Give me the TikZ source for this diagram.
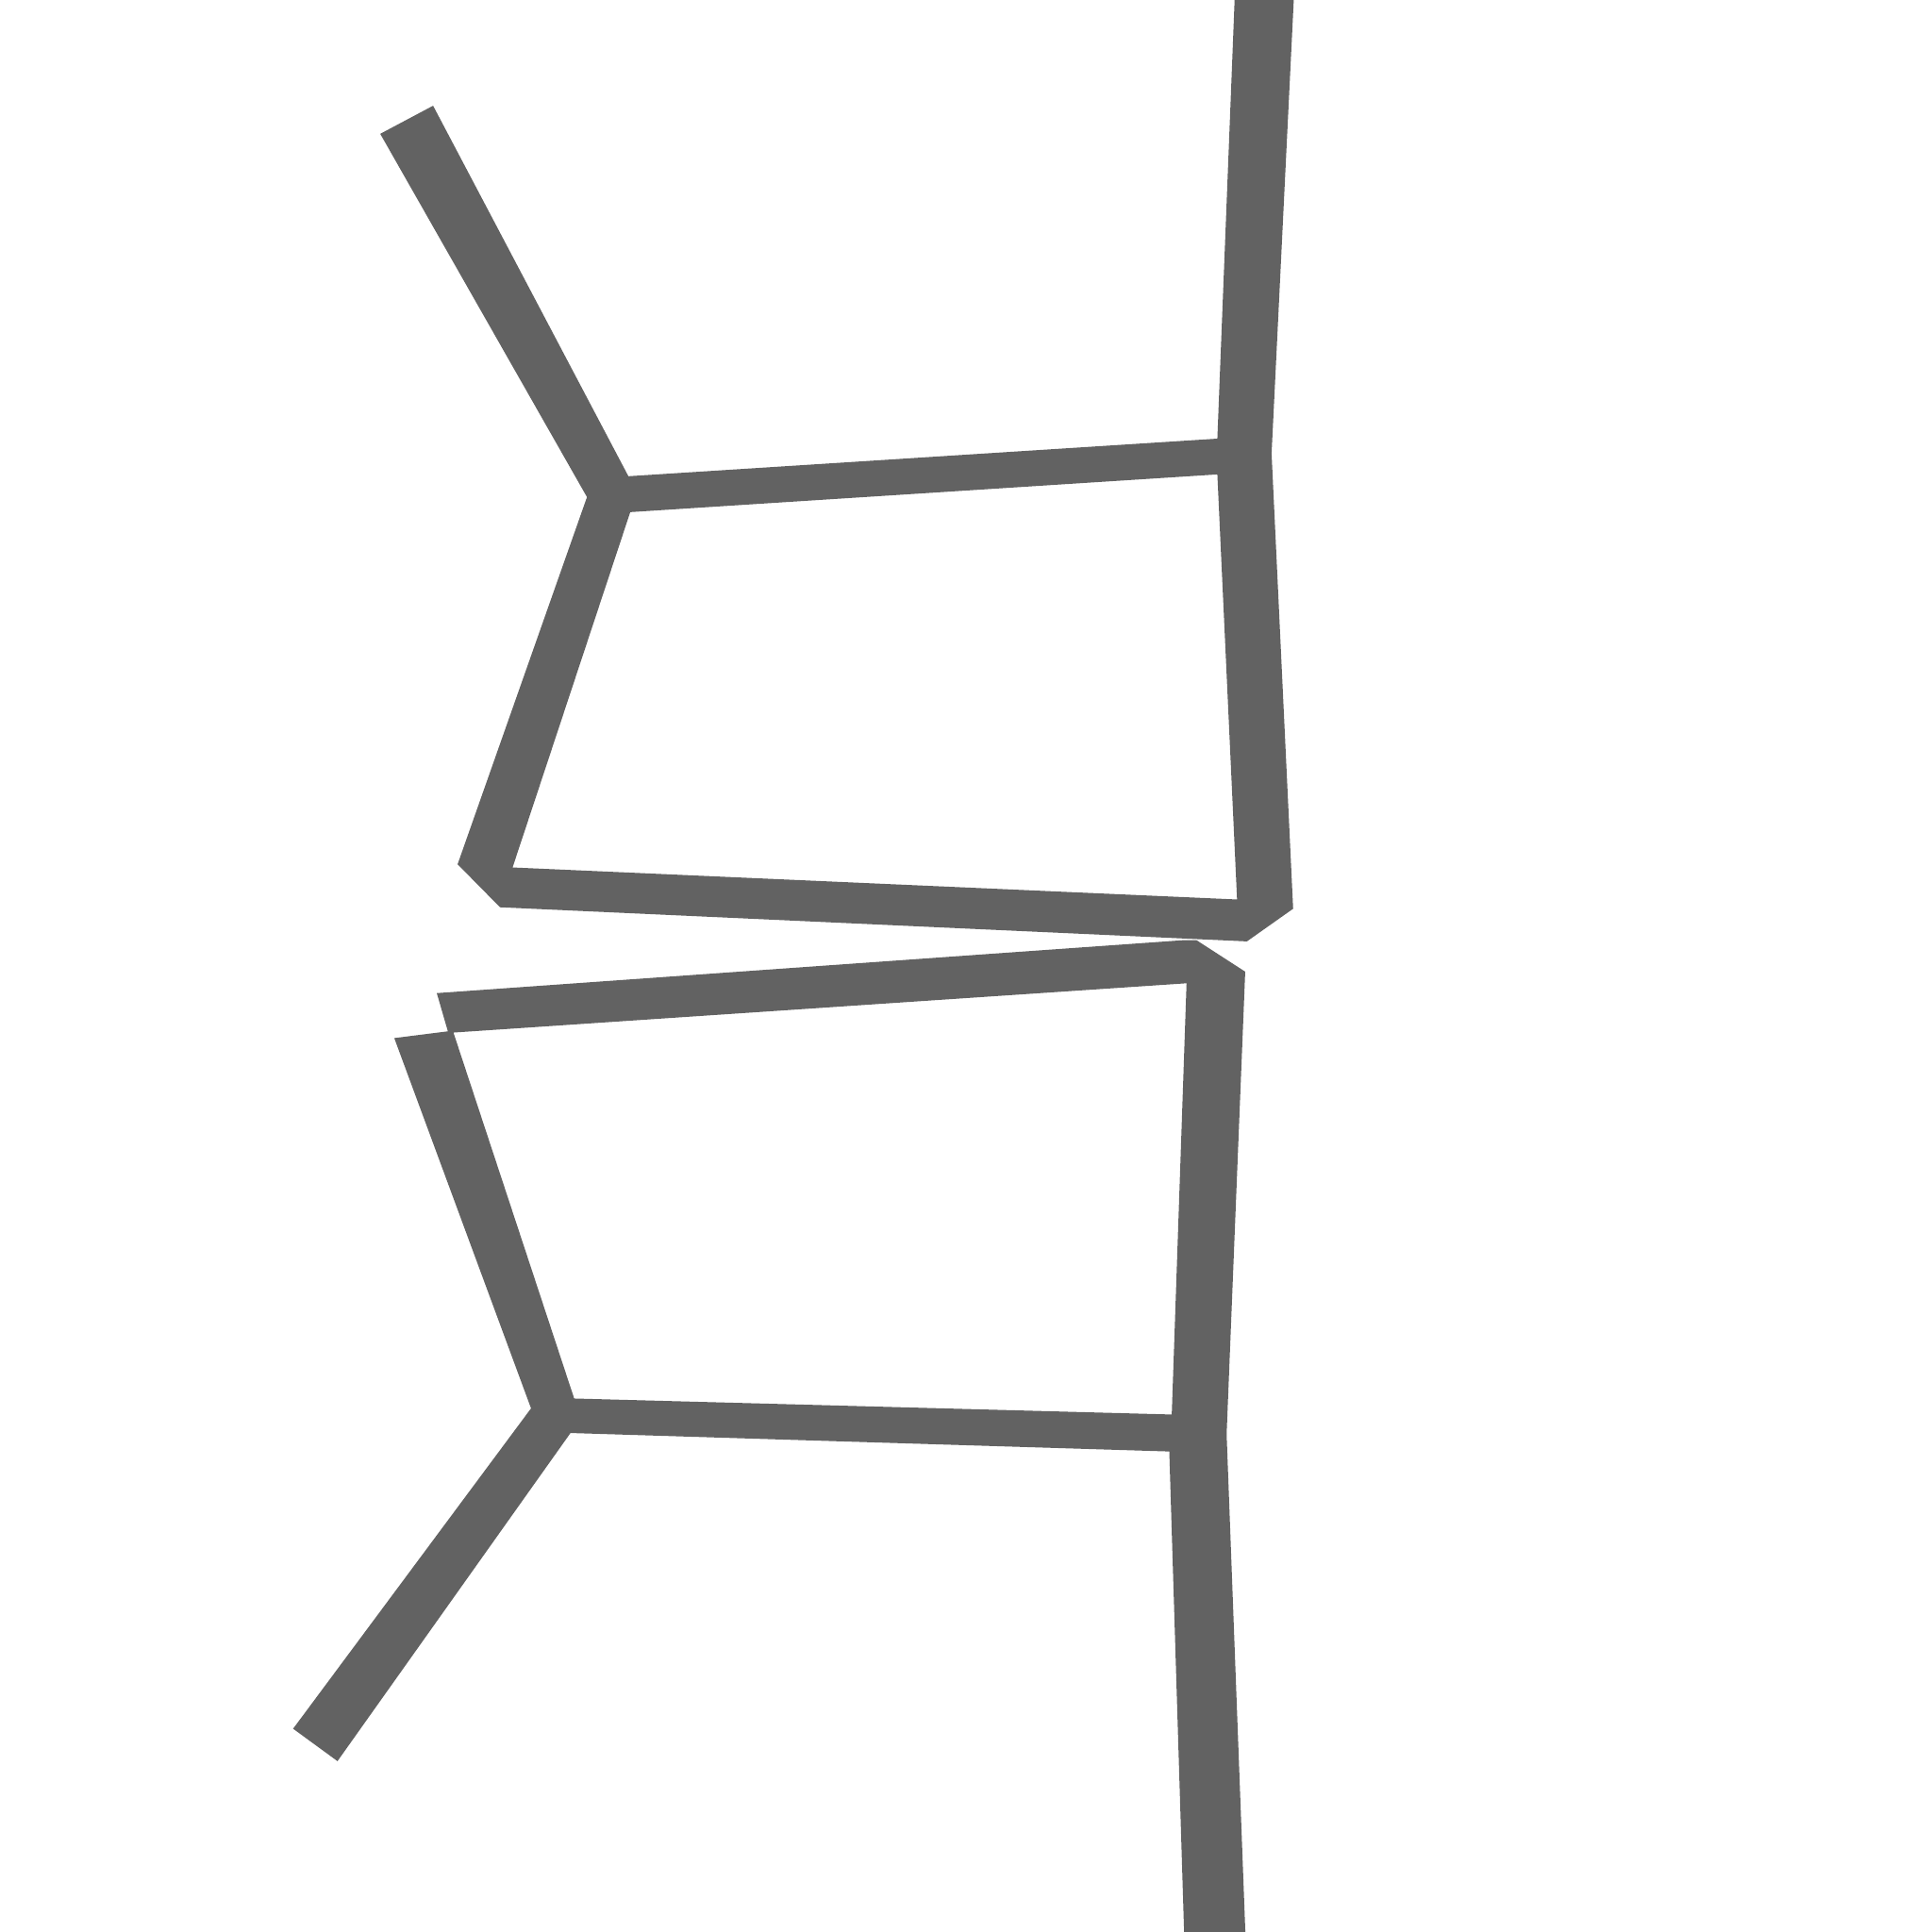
\documentclass[tikz,border=0pt]{standalone}
\definecolor{barg}{RGB}{98,98,98}
\begin{document}
\begin{tikzpicture}[x=0.01cm,y=-0.01cm,
  frame/.style={fill=barg,draw=none,even odd rule}]
\useasboundingbox[fill=white] (0,0) rectangle (1568,1568);
% upper structure
\fill[frame]
  (308.6,108.6) -- (351.5,85.8) -- (510,386.5) -- (988,356) -- (1002,0) -- (1050,0)
  -- (1032,368) -- (1049.5,737.5) -- (1012,764) -- (405.8,736.3) -- (371.4,701.4)
  -- (476.4,403.4) -- cycle
  (511.5,415.6) -- (988,385) -- (1004,730) -- (416,704) -- cycle;
% lower structure
\fill[frame]
  (354.5,806) -- (961,763) -- (971,763) -- (1010.6,788.6) -- (995.5,1164)
  -- (1010.7,1568) -- (961,1568) -- (949,1178) -- (463,1163) -- (273.9,1429.3)
  -- (237.9,1403) -- (431,1143) -- (320,842.5) -- (363.5,837) -- cycle
  (368,838) -- (963,798) -- (951,1148) -- (466,1135) -- cycle;
\end{tikzpicture}
\end{document}
